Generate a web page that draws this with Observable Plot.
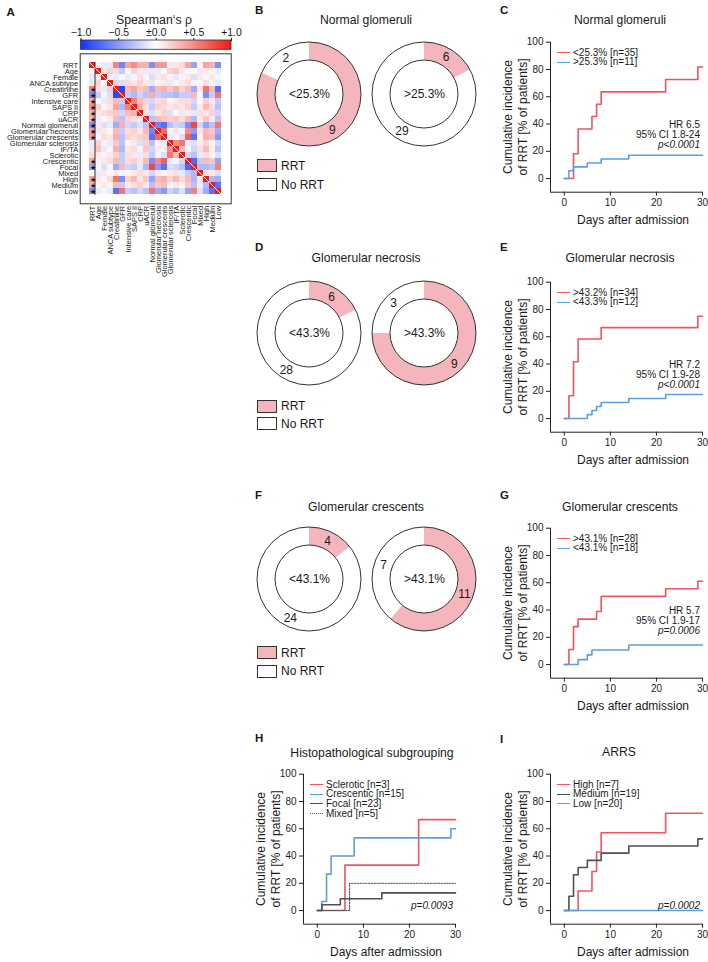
<!DOCTYPE html>
<html><head><meta charset="utf-8"><title>Figure</title>
<script src="https://cdn.jsdelivr.net/npm/d3@7"></script>
<script src="https://cdn.jsdelivr.net/npm/@observablehq/plot@0.6"></script>
<style>
html,body{margin:0;padding:0;background:#fff}
#fig{position:relative;width:708px;height:962px;overflow:hidden;font-family:"Liberation Sans",Arial,Helvetica,sans-serif;color:#1a1a1a}
#fig svg{overflow:visible;background:transparent}
.t{position:absolute;white-space:pre;line-height:1.2}
.box{position:absolute;box-sizing:border-box;border:1px solid #333}
.smp{position:absolute;width:13px;height:0}
</style></head><body><div id="fig"></div>
<script>
// ---------------- DATA ----------------
// A: Spearman correlation matrix (lower triangle, row i lists columns 0..i-1)
const vars = ["RRT","Age","Female","ANCA subtype","Creatinine","GFR","Intensive care","SAPS II","CRP","uACR","Normal glomeruli","Glomerular necrosis","Glomerular crescents","Glomerular sclerosis","IF/TA","Sclerotic","Crescentic","Focal","Mixed","High","Medium","Low"];
const rhoLower = [
  [],
  [0.05],
  [-0.1, 0.1],
  [-0.1, 0.2, -0.05],
  [0.55, 0.15, -0.1, 0.2],
  [-0.6, -0.25, 0.05, -0.15, -0.9],
  [0.4, 0.05, -0.1, 0.15, 0.3, -0.25],
  [0.5, 0.2, -0.05, 0.1, 0.4, -0.35, 0.55],
  [0.35, 0.1, 0.15, 0.2, 0.25, -0.2, 0.3, 0.35],
  [0.35, -0.1, 0.05, 0.1, 0.3, -0.3, 0.2, 0.15, 0.1],
  [-0.55, 0.1, -0.15, -0.1, -0.4, 0.35, -0.2, -0.25, -0.15, -0.3],
  [0.45, -0.1, 0.1, 0.05, 0.3, -0.25, 0.15, 0.2, 0.1, 0.3, -0.6],
  [0.45, -0.05, 0.15, 0.1, 0.35, -0.3, 0.2, 0.15, 0.2, 0.25, -0.7, 0.65],
  [-0.1, 0.2, 0.05, -0.1, 0.25, -0.3, 0.05, 0.1, -0.15, 0.2, -0.3, 0.05, -0.1],
  [0.1, 0.25, -0.1, 0.05, 0.35, -0.35, 0.1, 0.15, 0.05, 0.25, -0.2, 0.1, 0.05, 0.5],
  [0.15, 0.1, -0.05, 0.1, 0.2, -0.25, 0.15, 0.1, -0.1, 0.15, -0.25, -0.05, -0.15, 0.6, 0.3],
  [0.4, -0.05, 0.1, 0.15, 0.3, -0.25, 0.15, 0.2, 0.1, 0.3, -0.55, 0.5, 0.7, -0.1, 0.05, -0.2],
  [-0.45, 0.05, -0.15, -0.05, -0.4, 0.3, -0.2, -0.25, -0.1, -0.35, 0.8, -0.5, -0.7, -0.15, -0.2, -0.3, -0.75],
  [0.05, -0.1, 0.1, 0.05, 0.1, -0.05, 0.05, 0.1, 0.15, 0.1, -0.2, 0.1, 0.05, 0.1, 0.15, -0.1, -0.25, -0.35],
  [0.4, 0.1, -0.05, 0.15, 0.6, -0.55, 0.2, 0.3, 0.1, 0.25, -0.45, 0.3, 0.35, 0.2, 0.3, 0.15, 0.3, -0.35, 0.1],
  [0.35, 0.05, 0.1, 0.05, 0.3, -0.25, 0.1, 0.15, 0.2, 0.1, -0.3, 0.25, 0.3, 0.05, 0.1, 0.05, 0.25, -0.3, 0.1, -0.35],
  [-0.55, -0.1, -0.05, -0.1, -0.7, 0.6, -0.25, -0.3, -0.2, -0.3, 0.6, -0.4, -0.5, -0.2, -0.3, -0.15, -0.45, 0.55, -0.15, -0.4, -0.7]
];
const rrtStars = ["Creatinine","GFR","Intensive care","SAPS II","CRP","uACR","Normal glomeruli","Glomerular necrosis","Glomerular crescents","Crescentic","Focal","High","Medium","Low"];
const rhoTicks = [-1, -0.5, 0, 0.5, 1];
const rhoStops = [-1, 0, 1];
const rhoColors = ["#1233ff", "#ffffff", "#ee1b10"];

// B, D, F: donut counts
const normalGroups = ["<25.3%", ">25.3%"];
const normalRRT = [9, 6];
const normalNoRRT = [2, 29];
const necrosisGroups = ["<43.3%", ">43.3%"];
const necrosisRRT = [6, 9];
const necrosisNoRRT = [28, 3];
const crescentGroups = ["<43.1%", ">43.1%"];
const crescentRRT = [4, 11];
const crescentNoRRT = [24, 7];

// Kaplan-Meier style cumulative incidence (days, %)
const kmXDomain = [-3, 30];
const kmYDomain = [-10, 100];
const kmXTicks = [0, 10, 20, 30];
const kmYTicks = [0, 20, 40, 60, 80, 100];

const cRedT = [0, 2, 3, 6, 7, 8, 22, 29, 30];
const cRedV = [0, 18.2, 36.4, 45.5, 54.5, 63.6, 72.7, 81.8, 81.8];
const cBlueT = [0, 1, 2, 5, 8, 14, 30];
const cBlueV = [0, 5.7, 8.6, 11.4, 14.3, 17.1, 17.1];

const eRedT = [0, 1, 2, 3, 8, 29, 30];
const eRedV = [0, 16.7, 41.7, 58.3, 66.7, 75, 75];
const eBlueT = [0, 5, 6, 7, 8, 14, 22, 30];
const eBlueV = [0, 2.9, 5.9, 8.8, 11.8, 14.7, 17.6, 17.6];

const gRedT = [0, 1, 2, 3, 7, 8, 22, 29, 30];
const gRedV = [0, 11.1, 27.8, 33.3, 38.9, 50, 55.6, 61.1, 61.1];
const gBlueT = [0, 3, 5, 6, 14, 30];
const gBlueV = [0, 3.6, 7.1, 10.7, 14.3, 14.3];

const hSclT = [0, 6, 22, 30];
const hSclV = [0, 33.3, 66.7, 66.7];
const hCreT = [0, 1, 2, 3, 8, 29, 30];
const hCreV = [0, 6.7, 26.7, 40, 53.3, 60, 60];
const hFocT = [0, 1, 5, 14, 30];
const hFocV = [0, 4.3, 8.7, 13, 13];
const hMixT = [0, 7, 30];
const hMixV = [0, 20, 20];

const iHighT = [0, 3, 6, 7, 8, 22, 30];
const iHighV = [0, 14.3, 28.6, 42.9, 57.1, 71.4, 71.4];
const iMedT = [0, 1, 2, 3, 5, 8, 14, 29, 30];
const iMedV = [0, 10.5, 26.3, 31.6, 36.8, 42.1, 47.4, 52.6, 52.6];
const iLowT = [0, 30];
const iLowV = [0, 0];

// ---------------- HELPERS ----------------
const FONT = '"Liberation Sans", Arial, Helvetica, sans-serif';
const RED = "#f0545e", BLUE = "#5d9fdc", GRAY = "#505050", PINK = "#f4b5bc";
const fig = document.getElementById("fig");
function svgEl(tag, attrs = {}) {
  const e = document.createElementNS("http://www.w3.org/2000/svg", tag);
  for (const k in attrs) if (attrs[k] != null) e.setAttribute(k, attrs[k]);
  return e;
}
function put(node, left, top) {
  const d = document.createElement("div");
  d.style.cssText = `position:absolute;left:${left}px;top:${top}px;`;
  d.appendChild(node);
  fig.appendChild(d);
  return d;
}
function txt(s, x, y, o = {}) {
  const {size = 12, anchor = "middle", bold = false, italic = false, rotate = 0, lh = 1.2, color = "#1a1a1a"} = o;
  const d = document.createElement("div");
  d.className = "t";
  d.textContent = s;
  const tx = anchor === "middle" ? -50 : anchor === "end" ? -100 : 0;
  d.style.cssText += `left:${x}px;top:${y}px;font-size:${size}px;font-weight:${bold ? 700 : 400};font-style:${italic ? "italic" : "normal"};line-height:${lh};color:${color};text-align:${anchor === "end" ? "right" : anchor === "start" ? "left" : "center"};transform:translate(${tx}%,-50%) rotate(${rotate}deg);`;
  fig.appendChild(d);
  return d;
}
function box(x, y, w, h, fill) {
  const d = document.createElement("div");
  d.className = "box";
  d.style.cssText += `left:${x}px;top:${y}px;width:${w}px;height:${h}px;background:${fill};`;
  fig.appendChild(d);
}

// ---------------- A: heatmap ----------------
const cells = vars.flatMap((r, i) => vars.map((c, j) => ({
  row: r, col: c, rho: i === j ? 1 : (i > j ? rhoLower[i][j] : rhoLower[j][i])
})));
const starData = rrtStars.map(v => ({row: v, col: vars[0]}));

const heat = Plot.plot({
  width: 240, height: 280,
  marginLeft: 79.7, marginRight: 9.3, marginTop: 53.3, marginBottom: 76.7,
  x: {domain: vars, padding: 0, tickRotate: -90, tickSize: 0, tickPadding: 2, label: null},
  y: {domain: vars, padding: 0, tickSize: 0, tickPadding: 2, label: null},
  color: {type: "linear", domain: rhoStops, range: rhoColors, interpolate: "rgb"},
  style: {fontFamily: FONT, fontSize: "7.5px", color: "#1a1a1a", background: "transparent"},
  marks: [
    Plot.cell(cells, {x: "col", y: "row", fill: "rho", inset: 0}),
    (index, scales, values, dims) => {
      const n = vars.length;
      const bw = (dims.width - dims.marginLeft - dims.marginRight) / n;
      const bh = (dims.height - dims.marginTop - dims.marginBottom) / n;
      const x = scales.x, y = scales.y;
      const first = vars[0], last = vars[n - 1];
      const g = svgEl("g");
      g.appendChild(svgEl("line", {x1: x(first), y1: y(first), x2: x(last) + bw, y2: y(last) + bh, stroke: "#fff", "stroke-width": 1}));
      g.appendChild(svgEl("line", {x1: x(vars[1]), y1: y(first), x2: x(vars[1]), y2: y(last) + bh, stroke: "#333", "stroke-width": 1}));
      return g;
    },
    Plot.text(starData, {x: "col", y: "row", text: () => "★", fontSize: 6.5, fill: "#111"}),
    Plot.frame({stroke: "#333", strokeWidth: 1})
  ]
});
put(heat, 0, 0);

const fmtRho = d => d === 0 ? "±0.0" : (d > 0 ? "+" : "\u2212") + Math.abs(d).toFixed(1);
const cbar = Plot.plot({
  width: 240, height: 52,
  marginLeft: 80.5, marginRight: 9, marginTop: 40, marginBottom: 2.7,
  x: {domain: d3.extent(rhoTicks), axis: "top", ticks: rhoTicks, tickFormat: fmtRho, tickSize: 3, tickPadding: 1.5, label: null},
  style: {fontFamily: FONT, fontSize: "10.5px", color: "#1a1a1a", background: "transparent"},
  marks: [
    () => {
      const defs = svgEl("defs");
      const lg = svgEl("linearGradient", {id: "rhoGrad", x1: "0%", x2: "100%", y1: "0%", y2: "0%"});
      const [lo, hi] = d3.extent(rhoStops);
      rhoStops.forEach((s, i) => lg.appendChild(svgEl("stop", {offset: ((s - lo) / (hi - lo) * 100) + "%", "stop-color": rhoColors[i]})));
      defs.appendChild(lg);
      return defs;
    },
    Plot.rect([d3.extent(rhoTicks)], {x1: d => d[0], x2: d => d[1], fill: "url(#rhoGrad)", stroke: "#333", strokeWidth: 0.8})
  ]
});
put(cbar, 0, 0);
txt("Spearman\u2018s \u03c1", 154, 19.5, {size: 12.3});
txt("A", 6.5, 13.3, {size: 11.5, bold: true, anchor: "start"});

// ---------------- Donuts ----------------
const R_OUT = 52, R_IN = 34;
function donuts(groups, rrt, noRrt, left, top) {
  const data = groups.map((g, i) => ({group: g, counts: [rrt[i], noRrt[i]]}));
  const chart = Plot.plot({
    width: 241, height: 130,
    marginLeft: 11, marginRight: 0, marginTop: 0, marginBottom: 0,
    x: {type: "point", domain: groups, padding: 0.5, axis: null},
    style: {fontFamily: FONT, fontSize: "12px", color: "#1a1a1a", background: "transparent"},
    marks: [
      (index, scales, values, dims) => {
        const g = svgEl("g");
        const cy = dims.marginTop + (dims.height - dims.marginTop - dims.marginBottom) / 2;
        const pie = d3.pie().sort(null).value(d => d);
        const arc = d3.arc().innerRadius(R_IN).outerRadius(R_OUT);
        data.forEach(d => {
          const cx = scales.x(d.group);
          const gg = svgEl("g", {transform: `translate(${cx},${cy})`});
          const arcs = pie(d.counts);
          arcs.forEach((a, k) => gg.appendChild(svgEl("path", {d: arc(a), fill: k === 0 ? PINK : "#fff"})));
          gg.appendChild(svgEl("circle", {r: R_OUT, fill: "none", stroke: "#333", "stroke-width": 1}));
          gg.appendChild(svgEl("circle", {r: R_IN, fill: "none", stroke: "#333", "stroke-width": 1}));
          arcs.forEach(a => {
            const [lx, ly] = arc.centroid(a);
            const t = svgEl("text", {x: lx, y: ly, "text-anchor": "middle", dy: "0.36em", "font-size": 12, fill: "#1a1a1a"});
            t.textContent = a.data;
            gg.appendChild(t);
          });
          g.appendChild(gg);
        });
        return g;
      },
      Plot.text(data, {x: "group", text: "group", fontSize: 12, fill: "#1a1a1a"})
    ]
  });
  put(chart, left, top);
}
function donutLegend(y1, y2) {
  box(257.3, y1, 19.4, 13.2, PINK);
  txt("RRT", 281, y1 + 6.6, {size: 12, anchor: "start"});
  box(257.3, y2, 19.4, 13.2, "#fff");
  txt("No RRT", 281, y2 + 6.6, {size: 12, anchor: "start"});
}

donuts(normalGroups, normalRRT, normalNoRRT, 240, 29);
txt("B", 255, 10.5, {size: 11.5, bold: true, anchor: "start"});
txt("Normal glomeruli", 366, 20, {size: 12.2});
donutLegend(159.3, 178.3);

donuts(necrosisGroups, necrosisRRT, necrosisNoRRT, 240, 268);
txt("D", 255, 248, {size: 11.5, bold: true, anchor: "start"});
txt("Glomerular necrosis", 366, 257.5, {size: 12.2});
donutLegend(399.5, 417);

donuts(crescentGroups, crescentRRT, crescentNoRRT, 240, 514);
txt("F", 255, 495.5, {size: 11.5, bold: true, anchor: "start"});
txt("Glomerular crescents", 366, 507, {size: 12.2});
donutLegend(646.3, 664.5);

// ---------------- KM panels ----------------
function km(cfg) {
  const marks = [
    Plot.ruleX(kmXDomain.slice(0, 1), {stroke: "#222", strokeWidth: 1}),
    Plot.ruleY(kmYDomain.slice(0, 1), {stroke: "#222", strokeWidth: 1})
  ];
  cfg.series.forEach(s => marks.push(Plot.line(s.t.map((t, i) => ({t, v: s.v[i]})), {
    x: "t", y: "v", stroke: s.color, strokeWidth: s.w || 1.6, strokeDasharray: s.dash, curve: "step-after"
  })));
  const chart = Plot.plot({
    width: 238, height: 200,
    marginLeft: 80, marginRight: 6, marginTop: 11.7, marginBottom: 38.3,
    x: {domain: kmXDomain, ticks: kmXTicks, tickSize: 4, tickPadding: 2.5, label: null},
    y: {domain: kmYDomain, ticks: kmYTicks, tickSize: 4, tickPadding: 3, label: null},
    style: {fontFamily: FONT, fontSize: "10px", color: "#222", background: "transparent"},
    marks
  });
  const ox = cfg.left, oy = cfg.top;
  put(chart, ox, oy);
  txt("Days after admission", ox + 163, oy + 190, {size: 12});
  txt("Cumulative incidence\nof RRT [% of patients]", ox + 45.5, oy + 86.7, {size: 12, rotate: -90, lh: 1.25});
  cfg.series.forEach((s, k) => {
    const y = oy + 22.7 + 9.7 * k;
    const d = document.createElement("div");
    d.className = "smp";
    d.style.cssText += `left:${ox + 87}px;top:${y - 0.8}px;border-top:${s.dash ? "1.4px dotted " : "1.6px solid "}${s.color};`;
    fig.appendChild(d);
    txt(s.label, ox + 103, y, {size: 10, anchor: "start"});
  });
  (cfg.notes || []).forEach(n => {
    txt(n.text, ox + 230, oy + n.y, {size: 10, anchor: "end", italic: !!n.italic});
  });
  txt(cfg.title, cfg.titleX, cfg.titleY, {size: 12.2});
  txt(cfg.letter, cfg.letterX, cfg.letterY, {size: 11.5, bold: true, anchor: "start"});
}

km({left: 470, top: 30, title: "Normal glomeruli", titleX: 620, titleY: 20, letter: "C", letterX: 500, letterY: 10.5,
  series: [
    {t: cRedT, v: cRedV, color: RED, label: "<25.3% [n=35]"},
    {t: cBlueT, v: cBlueV, color: BLUE, label: ">25.3% [n=11]"}
  ],
  notes: [{text: "HR 6.5", y: 95}, {text: "95% CI 1.8-24", y: 105}, {text: "p<0.0001", y: 114.5, italic: true}]
});
km({left: 470, top: 270, title: "Glomerular necrosis", titleX: 620, titleY: 257.5, letter: "E", letterX: 500, letterY: 248,
  series: [
    {t: eRedT, v: eRedV, color: RED, label: ">43.2% [n=34]"},
    {t: eBlueT, v: eBlueV, color: BLUE, label: "<43.3% [n=12]"}
  ],
  notes: [{text: "HR 7.2", y: 95}, {text: "95% CI 1.9-28", y: 105}, {text: "p<0.0001", y: 114.5, italic: true}]
});
km({left: 470, top: 516, title: "Glomerular crescents", titleX: 620, titleY: 507, letter: "G", letterX: 500, letterY: 495.5,
  series: [
    {t: gRedT, v: gRedV, color: RED, label: ">43.1% [n=28]"},
    {t: gBlueT, v: gBlueV, color: BLUE, label: "<43.1% [n=18]"}
  ],
  notes: [{text: "HR 5.7", y: 95}, {text: "95% CI 1.9-17", y: 105}, {text: "p=0.0006", y: 114.5, italic: true}]
});
km({left: 223, top: 762, title: "Histopathological subgrouping", titleX: 372, titleY: 752.5, letter: "H", letterX: 255, letterY: 739,
  series: [
    {t: hSclT, v: hSclV, color: RED, label: "Sclerotic [n=3]"},
    {t: hCreT, v: hCreV, color: BLUE, label: "Crescentic [n=15]"},
    {t: hFocT, v: hFocV, color: GRAY, label: "Focal [n=23]"},
    {t: hMixT, v: hMixV, color: GRAY, label: "Mixed [n=5]", dash: "1.4,1.4", w: 1.1}
  ],
  notes: [{text: "p=0.0093", y: 143.7, italic: true}]
});
km({left: 470, top: 762, title: "ARRS", titleX: 619, titleY: 752, letter: "I", letterX: 500, letterY: 740,
  series: [
    {t: iHighT, v: iHighV, color: RED, label: "High [n=7]"},
    {t: iMedT, v: iMedV, color: GRAY, label: "Medium [n=19]"},
    {t: iLowT, v: iLowV, color: BLUE, label: "Low [n=20]"}
  ],
  notes: [{text: "p=0.0002", y: 143.7, italic: true}]
});
</script></body></html>
